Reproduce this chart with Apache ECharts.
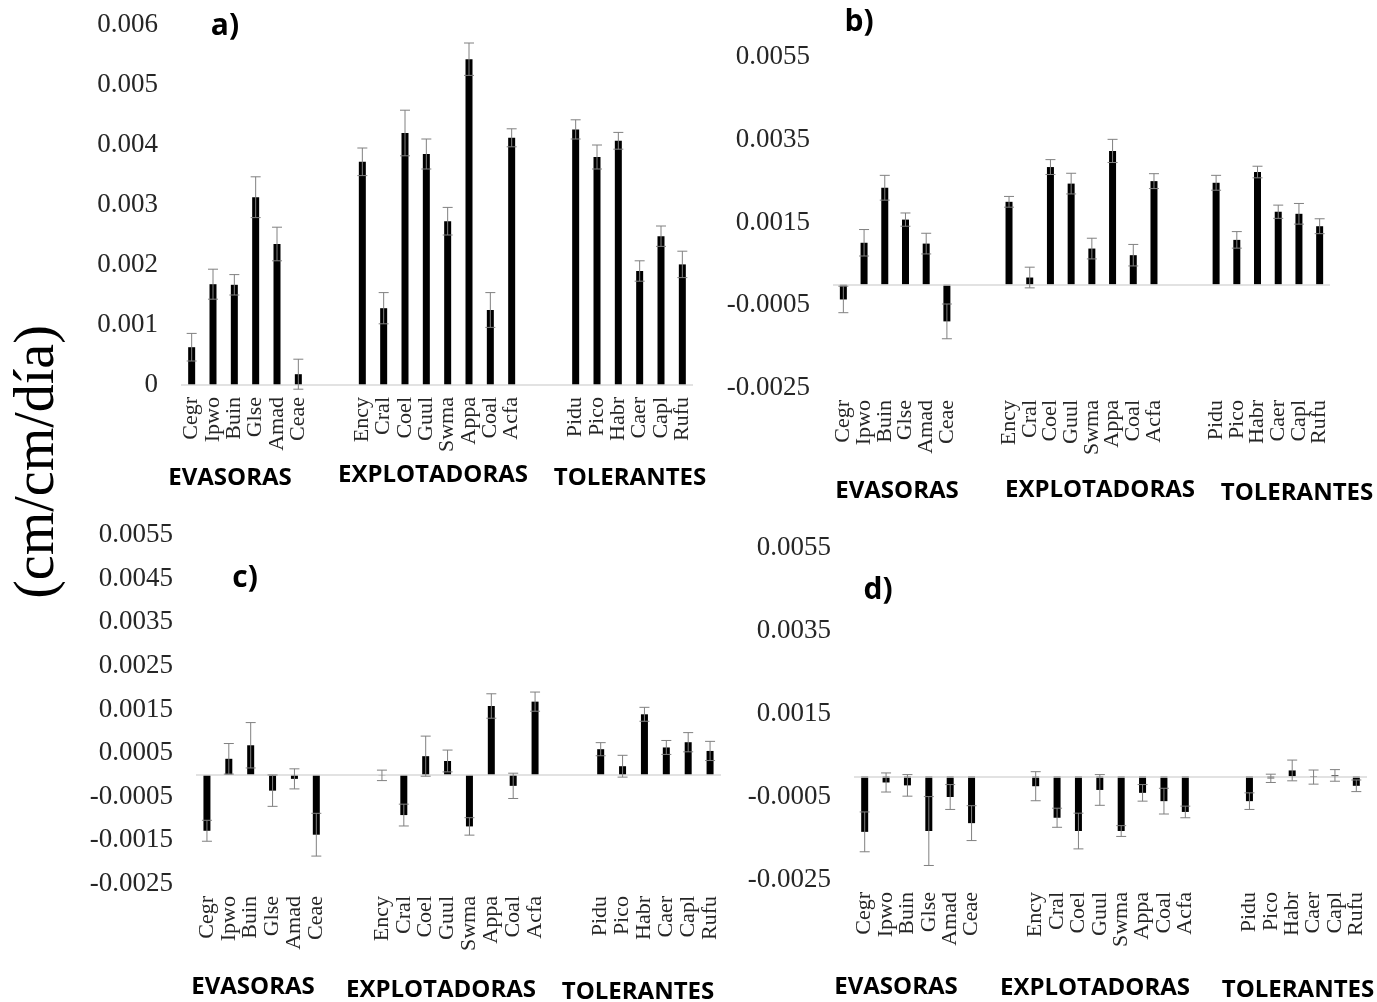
<!DOCTYPE html>
<html><head><meta charset="utf-8">
<script src="https://cdn.jsdelivr.net/npm/echarts@6/dist/echarts.min.js"></script>
<style>html,body{margin:0;padding:0;background:#fff}#c{width:1377px;height:1002px}</style>
</head><body><div id="c"></div>
<script>
// ---- data ----
const EVA = ['Cegr','Ipwo','Buin','Glse','Amad','Ceae'];
const EXP = ['Ency','Cral','Coel','Guul','Swma','Appa','Coal','Acfa'];
const TOL = ['Pidu','Pico','Habr','Caer','Capl','Rufu'];
const GROUPS = ['EVASORAS','EXPLOTADORAS','TOLERANTES'];
const PANEL_LETTERS = ['a)','b)','c)','d)'];
const Y_TITLE = '(cm/cm/día)';

const valuesA = [0.00063,0.00168,0.00167,0.00313,0.00235,0.00018, 0.00372,0.00128,0.0042,0.00385,0.00273,0.00543,0.00125,0.00412, 0.00426,0.0038,0.00407,0.0019,0.00248,0.00201];
const errA    = [0.00023,0.00025,0.00017,0.00034,0.00028,0.00025, 0.00023,0.00026,0.00038,0.00025,0.00023,0.00027,0.00029,0.00015, 0.00016,0.0002,0.00014,0.00017,0.00017,0.00022];
const valuesB = [-0.00036,0.00101,0.00234,0.00157,0.00099,-0.00089, 0.002,0.00017,0.00284,0.00244,0.00087,0.00323,0.00071,0.0025, 0.00246,0.00108,0.00272,0.00176,0.00171,0.00141];
const errB    = [0.00032,0.00032,0.0003,0.00016,0.00025,0.00042, 0.00013,0.00025,0.00018,0.00025,0.00025,0.00028,0.00026,0.00018, 0.00018,0.0002,0.00014,0.00016,0.00025,0.00018];
const valuesC = [-0.00128,0.00037,0.00068,-0.00036,-0.00009,-0.00137, -0.00001,-0.00092,0.00043,0.00032,-0.00118,0.00158,-0.00025,0.00168, 0.00059,0.0002,0.00139,0.00063,0.00075,0.00055];
const errC    = [0.00024,0.00035,0.00052,0.00036,0.00023,0.00049, 0.00012,0.00025,0.00046,0.00025,0.0002,0.00028,0.00029,0.00022, 0.00015,0.00025,0.00016,0.00016,0.00022,0.00022];
const valuesD = [-0.00134,-0.00015,-0.00022,-0.00132,-0.0005,-0.00113, -0.00024,-0.001,-0.00132,-0.00033,-0.00132,-0.0004,-0.0006,-0.00086, -0.0006,-0.00005,0.00014,-0.00002,0.00002,-0.00023];
const errD    = [0.00048,0.00023,0.00026,0.00083,0.0003,0.00042, 0.00035,0.00023,0.00043,0.00037,0.00013,0.0002,0.00031,0.00014, 0.0002,0.0001,0.00025,0.00017,0.00014,0.00014];

const ticksA = [0,0.001,0.002,0.003,0.004,0.005,0.006];
const ticksB = [-0.0025,-0.0005,0.0015,0.0035,0.0055];
const ticksC = [-0.0025,-0.0015,-0.0005,0.0005,0.0015,0.0025,0.0035,0.0045,0.0055];
const ticksD = [-0.0025,-0.0005,0.0015,0.0035,0.0055];

// ---- build ----
const cats = [...EVA,'_g1','_g2',...EXP,'_g3','_g4',...TOL];
function spread(arr){ return [...arr.slice(0,6),null,null,...arr.slice(6,14),null,null,...arr.slice(14)]; }
const idxs = [];
cats.forEach((c,i)=>{ if(c[0] !== '_') idxs.push(i); });

const panels = [
  {grid:{left:181,top:25,width:512,height:360}, vals:valuesA, errs:errA, ticks:ticksA, digits:3,
   groupPos:[[230,478],[433,475],[630,478]], letter:[225,26]},
  {grid:{left:833,top:57,width:497,height:331}, vals:valuesB, errs:errB, ticks:ticksB, digits:4,
   groupPos:[[897,491],[1100,490],[1297,493]], letter:[859,22]},
  {grid:{left:196,top:535,width:525,height:349}, vals:valuesC, errs:errC, ticks:ticksC, digits:4,
   groupPos:[[253,987],[441,990],[638,992]], letter:[245,578]},
  {grid:{left:854,top:548,width:513,height:332}, vals:valuesD, errs:errD, ticks:ticksD, digits:4,
   groupPos:[[896,987],[1095,988],[1298,990]], letter:[878,590]}
];

const grid=[], xAxis=[], yAxis=[], series=[], graphic=[];
panels.forEach((p,i)=>{
  grid.push(Object.assign({containLabel:false}, p.grid));
  xAxis.push({type:'category', gridIndex:i, data:cats,
    axisLine:{show:false, onZero:false}, axisTick:{show:false},
    axisLabel:{interval:0, rotate:90, margin:12, color:'#262626', fontFamily:'Liberation Serif', fontSize:22,
      formatter:v=> v[0]==='_' ? '' : v}});
  const tmin = p.ticks[0], tmax = p.ticks[p.ticks.length-1];
  yAxis.push({type:'value', gridIndex:i, min:tmin, max:tmax,
    axisLine:{show:false}, axisTick:{show:false}, splitLine:{show:false},
    axisLabel:{customValues:p.ticks, margin:23, color:'#262626', fontFamily:'Liberation Serif', fontSize:27,
      formatter:v=> Math.abs(v)<1e-12 ? '0' : v.toFixed(p.digits)}});
  series.push({type:'bar', xAxisIndex:i, yAxisIndex:i, data:spread(p.vals), barWidth:7,
    itemStyle:{color:'#000'}, silent:true,
    markLine:{silent:true, symbol:'none', label:{show:false}, animation:false,
      lineStyle:{color:'#d9d9d9', width:1.5, type:'solid'}, data:[{yAxis:0}]}});
  series.push({type:'custom', xAxisIndex:i, yAxisIndex:i, z:5, silent:true,
    encode:{x:0,y:1},
    data:idxs.map((ci,k)=>[ci, p.vals[k], p.errs[k]]),
    renderItem:function(params, api){
      const x=api.value(0), v=api.value(1), e=api.value(2);
      const t=api.coord([x, v+e]), b=api.coord([x, v-e]);
      const cx=t[0], hw=5;
      const st={stroke:'#808080', lineWidth:1};
      return {type:'group', children:[
        {type:'line', shape:{x1:cx,y1:t[1],x2:cx,y2:b[1]}, style:st},
        {type:'line', shape:{x1:cx-hw,y1:t[1],x2:cx+hw,y2:t[1]}, style:st},
        {type:'line', shape:{x1:cx-hw,y1:b[1],x2:cx+hw,y2:b[1]}, style:st}
      ]};
    }});
  GROUPS.forEach((g,k)=>{
    graphic.push({type:'text', x:p.groupPos[k][0], y:p.groupPos[k][1],
      style:{text:g, font:'bold 24px "Open Sans"', fill:'#000', textAlign:'center', textVerticalAlign:'middle'}});
  });
  graphic.push({type:'text', x:p.letter[0], y:p.letter[1],
    style:{text:PANEL_LETTERS[i], font:'bold 30px "Open Sans"', fill:'#000', textAlign:'center', textVerticalAlign:'middle'}});
});
graphic.push({type:'text', x:38, y:462, rotation:Math.PI/2,
  style:{text:Y_TITLE, font:'56px "Liberation Serif"', fill:'#000', textAlign:'center', textVerticalAlign:'middle'}});

const chart = echarts.init(document.getElementById('c'), null, {renderer:'canvas'});
chart.setOption({animation:false, backgroundColor:'#fff', grid, xAxis, yAxis, series, graphic});
</script></body></html>
